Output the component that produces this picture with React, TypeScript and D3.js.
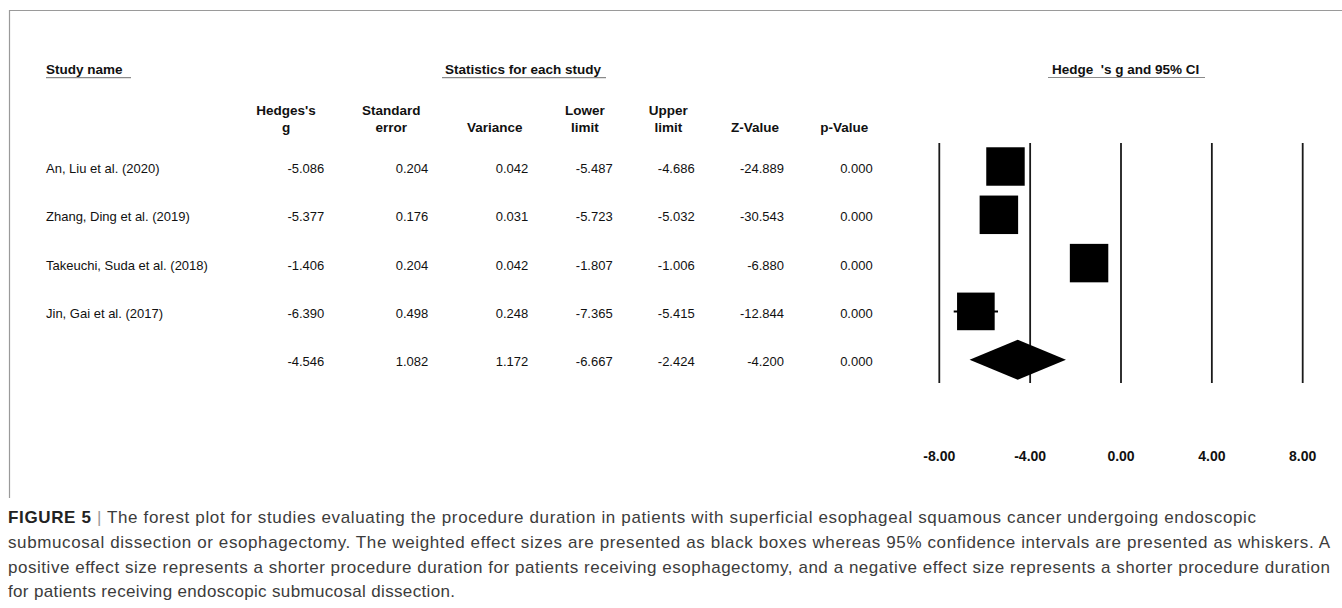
import React from "react";
import * as d3 from "d3";

// Study-level statistics
const studies = [
  "An, Liu et al. (2020)",
  "Zhang, Ding et al. (2019)",
  "Takeuchi, Suda et al. (2018)",
  "Jin, Gai et al. (2017)",
];
const hedgesG = [-5.086, -5.377, -1.406, -6.39];
const stdError = [0.204, 0.176, 0.204, 0.498];
const variance = [0.042, 0.031, 0.042, 0.248];
const lowerLimit = [-5.487, -5.723, -1.807, -7.365];
const upperLimit = [-4.686, -5.032, -1.006, -5.415];
const zValue = [-24.889, -30.543, -6.88, -12.844];
const pValue = [0.0, 0.0, 0.0, 0.0];

// Pooled (random-effects) estimate
const pooledG = -4.546;
const pooledSE = 1.082;
const pooledVar = 1.172;
const pooledLower = -6.667;
const pooledUpper = -2.424;
const pooledZ = -4.2;
const pooledP = 0.0;

const axisTicks = [-8, -4, 0, 4, 8];

const columnHeaders: [string, string][] = [
  ["Hedges's", "g"],
  ["Standard", "error"],
  ["", "Variance"],
  ["Lower", "limit"],
  ["Upper", "limit"],
  ["", "Z-Value"],
  ["", "p-Value"],
];

const captionLines = [
  " | The forest plot for studies evaluating the procedure duration in patients with superficial esophageal squamous cancer undergoing endoscopic",
  "submucosal dissection or esophagectomy. The weighted effect sizes are presented as black boxes whereas 95% confidence intervals are presented as whiskers. A",
  "positive effect size represents a shorter procedure duration for patients receiving esophagectomy, and a negative effect size represents a shorter procedure duration",
  "for patients receiving endoscopic submucosal dissection.",
];
// right end of each caption line
const captionLineEnd = [1256, 1330, 1330, 455];

const W = 1342;
const H = 608;
const FONT = "'Liberation Sans', Arial, Helvetica, sans-serif";

// column layout (right edges of numbers, centres of headers)
const colRight = [324.3, 428.3, 528.3, 612.7, 694.7, 784, 872.7];
const colHeadCenter = [286, 391.3, 494.7, 585, 668.3, 755, 844.2];

const fmt = (v: number) => v.toFixed(3);

export default function App() {
  const x = d3.scaleLinear().domain([-8, 8]).range([939.3, 1302.7]);
  const rowY = d3.scaleLinear().domain([0, 4]).range([166.5, 359.7]);

  // DerSimonian-Laird weights for box sizes
  const wFixed = variance.map((v) => 1 / v);
  const sumW = d3.sum(wFixed);
  const yBar = d3.sum(hedgesG.map((g, i) => g * wFixed[i])) / sumW;
  const Q = d3.sum(hedgesG.map((g, i) => wFixed[i] * (g - yBar) ** 2));
  const C = sumW - d3.sum(wFixed.map((w) => w * w)) / sumW;
  const tau2 = Math.max(0, (Q - (hedgesG.length - 1)) / C);
  const wRandom = variance.map((v) => 1 / (v + tau2));
  const wMax = d3.max(wRandom) as number;
  const boxSize = (i: number) => 38.5 * Math.sqrt(wRandom[i] / wMax);

  const rows = studies.map((name, i) => ({
    name,
    vals: [hedgesG[i], stdError[i], variance[i], lowerLimit[i], upperLimit[i], zValue[i], pValue[i]],
  }));
  const pooledVals = [pooledG, pooledSE, pooledVar, pooledLower, pooledUpper, pooledZ, pooledP];

  const gridTop = 143;
  const gridBottom = 383;
  const py = rowY(4);
  const diamond = [
    [x(pooledLower), py],
    [x(pooledG), py - 20],
    [x(pooledUpper), py],
    [x(pooledG), py + 20],
  ];

  const capX = 8;

  return (
    <svg
      width={W}
      height={H}
      style={{ position: "absolute", left: 0, top: 0, background: "#fff" }}
      fontFamily={FONT}
    >
      {/* frame */}
      <line x1={9.5} y1={10.5} x2={W} y2={10.5} stroke="#9a9a9a" strokeWidth={1.2} />
      <line x1={9.5} y1={10} x2={9.5} y2={498} stroke="#9a9a9a" strokeWidth={1.2} />

      {/* group headers */}
      <text x={46} y={74} fontSize={13.5} fontWeight="bold" fill="#111">Study name</text>
      <line x1={46} y1={77.7} x2={131} y2={77.7} stroke="#8a8a8a" strokeWidth={1.2} />

      <text x={523} y={74} fontSize={13.5} fontWeight="bold" fill="#111" textAnchor="middle">
        Statistics for each study
      </text>
      <line x1={442} y1={77.7} x2={606} y2={77.7} stroke="#8a8a8a" strokeWidth={1.2} />

      <text x={1199.3} y={74} fontSize={13.5} fontWeight="bold" fill="#111" textAnchor="end" style={{ whiteSpace: "pre" }}>
        {"Hedge  's g and 95% CI"}
      </text>
      <line x1={1048} y1={77.5} x2={1205} y2={77.5} stroke="#8a8a8a" strokeWidth={1.2} />

      {/* column headers */}
      {columnHeaders.map(([a, b], j) => (
        <g key={j} fontSize={13.5} fontWeight="bold" fill="#111" textAnchor="middle">
          {a && <text x={colHeadCenter[j]} y={115}>{a}</text>}
          <text x={colHeadCenter[j]} y={131.5}>{b}</text>
        </g>
      ))}

      {/* study rows */}
      {rows.map((r, i) => (
        <g key={r.name} fontSize={13} fill="#111">
          <text x={46} y={rowY(i) + 6.5}>{r.name}</text>
          {r.vals.map((v, j) => (
            <text key={j} x={colRight[j]} y={rowY(i) + 6.5} textAnchor="end">{fmt(v)}</text>
          ))}
        </g>
      ))}
      <g fontSize={13} fill="#111">
        {pooledVals.map((v, j) => (
          <text key={j} x={colRight[j]} y={rowY(4) + 6.5} textAnchor="end">{fmt(v)}</text>
        ))}
      </g>

      {/* reference lines */}
      {axisTicks.map((t) => (
        <line key={t} x1={x(t)} x2={x(t)} y1={gridTop} y2={gridBottom} stroke="#1a1a1a" strokeWidth={1.8} />
      ))}

      {/* confidence intervals and boxes */}
      {studies.map((s, i) => (
        <g key={s}>
          <line x1={x(lowerLimit[i])} x2={x(upperLimit[i])} y1={rowY(i)} y2={rowY(i)} stroke="#000" strokeWidth={2} />
          <rect
            x={x(hedgesG[i]) - boxSize(i) / 2}
            y={rowY(i) - boxSize(i) / 2}
            width={boxSize(i)}
            height={boxSize(i)}
            fill="#000"
          />
        </g>
      ))}
      <polygon points={diamond.map((p) => p.join(",")).join(" ")} fill="#000" />

      {/* axis labels */}
      {axisTicks.map((t) => (
        <text key={t} x={x(t)} y={460.5} fontSize={14} fontWeight="bold" fill="#111" textAnchor="middle">
          {t.toFixed(2)}
        </text>
      ))}

      {/* caption */}
      <g fontSize={17} fill="#3c3c3c" fontFamily={FONT}>
        {captionLines.map((line, k) => (
          <text
            key={k}
            x={capX}
            y={523 + k * 24.8}
            textLength={captionLineEnd[k] - capX}
            lengthAdjust="spacing"
          >
            {k === 0 && <tspan fontWeight="bold" fill="#222">FIGURE 5</tspan>}
            {k === 0 ? (
              <>
                <tspan fill="#999"> |</tspan>
                <tspan>{line.slice(2)}</tspan>
              </>
            ) : (
              line
            )}
          </text>
        ))}
      </g>
    </svg>
  );
}
